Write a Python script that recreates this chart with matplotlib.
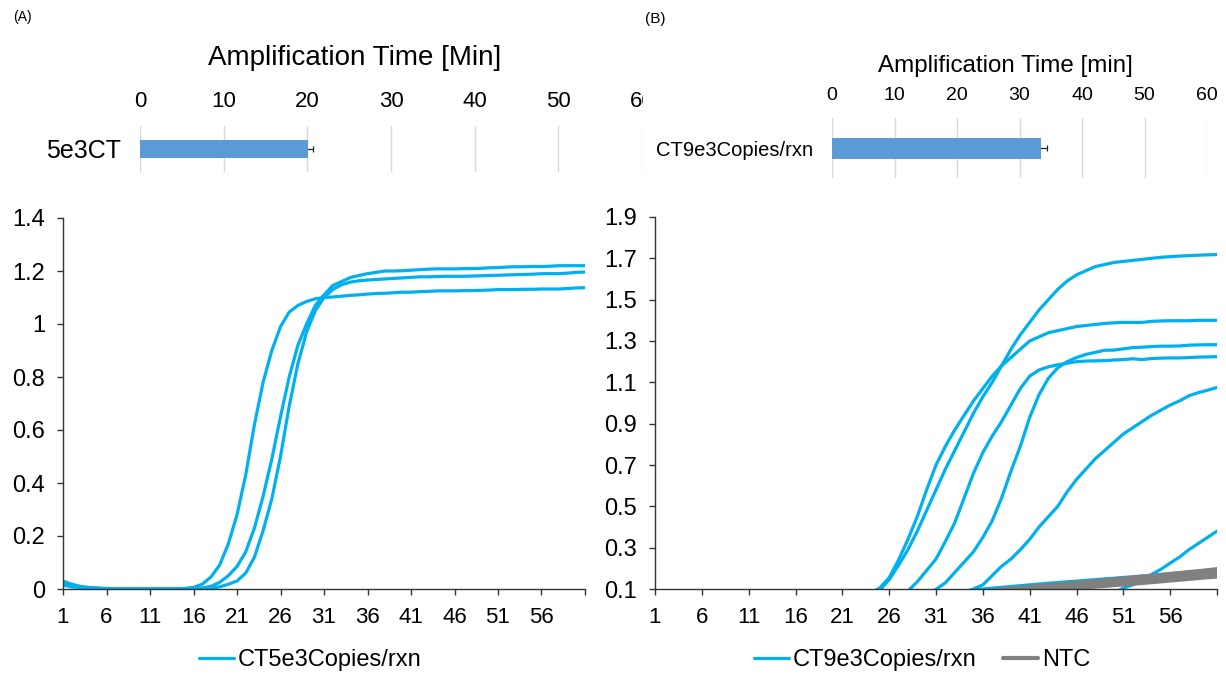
import matplotlib
matplotlib.use("Agg")
import matplotlib.pyplot as plt
from matplotlib.transforms import Bbox, TransformedBbox

plt.rcParams['font.family'] = ['Liberation Sans', 'DejaVu Sans']

# ---- data ----
cycles = list(range(1, 62))

# panel A, 5e3 copies/rxn, three replicates
ct5_r1 = [0.03, 0.018, 0.01, 0.006, 0.004, 0.002, 0.001, 0.001, 0.001, 0.0,
          0.0, 0.0, 0.0, 0.001, 0.002, 0.006, 0.018, 0.045, 0.09, 0.17,
          0.28, 0.43, 0.62, 0.78, 0.9, 0.99, 1.045, 1.07, 1.085, 1.095,
          1.1, 1.102, 1.105, 1.108, 1.11, 1.113, 1.115, 1.116, 1.118, 1.12,
          1.12, 1.122, 1.123, 1.125, 1.125, 1.125, 1.126, 1.126, 1.127, 1.128,
          1.13, 1.13, 1.13, 1.131, 1.131, 1.132, 1.132, 1.132, 1.134, 1.136,
          1.137]
ct5_r2 = [0.02, 0.012, 0.006, 0.004, 0.002, 0.001, 0.001, 0.0, 0.0, 0.0,
          0.0, 0.0, 0.0, 0.0, 0.001, 0.001, 0.004, 0.01, 0.025, 0.05,
          0.085, 0.14, 0.23, 0.35, 0.49, 0.65, 0.8, 0.92, 1.0, 1.07,
          1.11, 1.145, 1.16, 1.175, 1.183, 1.19, 1.195, 1.2, 1.2, 1.201,
          1.203, 1.205, 1.207, 1.208, 1.208, 1.208, 1.209, 1.209, 1.21, 1.212,
          1.213, 1.215, 1.216, 1.216, 1.217, 1.217, 1.218, 1.22, 1.22, 1.22,
          1.22]
ct5_r3 = [0.015, 0.008, 0.005, 0.003, 0.001, 0.001, 0.0, 0.0, 0.0, 0.0,
          0.0, 0.0, 0.0, 0.0, 0.0, 0.0, 0.001, 0.003, 0.008, 0.018,
          0.03, 0.06, 0.12, 0.22, 0.34, 0.5, 0.69, 0.85, 0.97, 1.05,
          1.1, 1.13, 1.148, 1.158, 1.163, 1.166, 1.168, 1.17, 1.172, 1.174,
          1.176, 1.178, 1.178, 1.179, 1.18, 1.18, 1.18, 1.181, 1.182, 1.183,
          1.184, 1.185, 1.186, 1.187, 1.188, 1.19, 1.19, 1.19, 1.192, 1.195,
          1.196]

# panel B, 9e3 copies/rxn
ct9_r1 = [0.05, 0.05, 0.05, 0.05, 0.05, 0.05, 0.05, 0.05, 0.05, 0.05,
          0.05, 0.05, 0.05, 0.05, 0.05, 0.05, 0.05, 0.05, 0.05, 0.05,
          0.05, 0.05, 0.06, 0.08, 0.105, 0.155, 0.24, 0.34, 0.45, 0.58,
          0.7, 0.79, 0.87, 0.94, 1.01, 1.07, 1.13, 1.18, 1.22, 1.26,
          1.3, 1.32, 1.34, 1.35, 1.36, 1.37, 1.375, 1.38, 1.385, 1.388,
          1.39, 1.39, 1.39, 1.395, 1.397, 1.398, 1.398, 1.398, 1.4, 1.4,
          1.4]
ct9_r2 = [0.05, 0.05, 0.05, 0.05, 0.05, 0.05, 0.05, 0.05, 0.05, 0.05,
          0.05, 0.05, 0.05, 0.05, 0.05, 0.05, 0.05, 0.05, 0.05, 0.05,
          0.05, 0.05, 0.055, 0.07, 0.095, 0.145, 0.215, 0.29, 0.38, 0.48,
          0.58, 0.68, 0.77, 0.86, 0.95, 1.03, 1.1, 1.18, 1.26, 1.33,
          1.39, 1.45, 1.5, 1.55, 1.59, 1.62, 1.64, 1.66, 1.67, 1.68,
          1.685, 1.69, 1.695, 1.7, 1.705, 1.708, 1.711, 1.713, 1.715, 1.717,
          1.718]
ct9_r3 = [0.05, 0.05, 0.05, 0.05, 0.05, 0.05, 0.05, 0.05, 0.05, 0.05,
          0.05, 0.05, 0.05, 0.05, 0.05, 0.05, 0.05, 0.05, 0.05, 0.05,
          0.05, 0.05, 0.05, 0.05, 0.05, 0.05, 0.06, 0.09, 0.135, 0.19,
          0.245, 0.33, 0.42, 0.54, 0.66, 0.76, 0.84, 0.91, 0.99, 1.07,
          1.13, 1.16, 1.175, 1.185, 1.193, 1.2, 1.203, 1.204, 1.205, 1.208,
          1.21, 1.214, 1.21, 1.215, 1.217, 1.218, 1.218, 1.22, 1.222, 1.223,
          1.224]
ct9_r4 = [0.05, 0.05, 0.05, 0.05, 0.05, 0.05, 0.05, 0.05, 0.05, 0.05,
          0.05, 0.05, 0.05, 0.05, 0.05, 0.05, 0.05, 0.05, 0.05, 0.05,
          0.05, 0.05, 0.05, 0.05, 0.05, 0.05, 0.05, 0.05, 0.06, 0.075,
          0.098, 0.13, 0.18, 0.23, 0.28, 0.35, 0.43, 0.54, 0.67, 0.79,
          0.93, 1.04, 1.12, 1.17, 1.2, 1.22, 1.235, 1.245, 1.255, 1.256,
          1.262, 1.268, 1.27, 1.273, 1.275, 1.275, 1.276, 1.28, 1.281, 1.282,
          1.282]
ct9_r5 = [0.05, 0.05, 0.05, 0.05, 0.05, 0.05, 0.05, 0.05, 0.05, 0.05,
          0.05, 0.05, 0.05, 0.05, 0.05, 0.05, 0.05, 0.05, 0.05, 0.05,
          0.05, 0.05, 0.05, 0.05, 0.05, 0.05, 0.05, 0.05, 0.05, 0.05,
          0.05, 0.05, 0.06, 0.085, 0.1, 0.12, 0.165, 0.21, 0.245, 0.29,
          0.34, 0.4, 0.45, 0.5, 0.57, 0.63, 0.68, 0.73, 0.77, 0.81,
          0.85, 0.88, 0.91, 0.94, 0.965, 0.99, 1.01, 1.035, 1.05, 1.062,
          1.075]
ct9_r6 = [0.05, 0.05, 0.05, 0.05, 0.05, 0.05, 0.05, 0.05, 0.05, 0.05,
          0.05, 0.05, 0.05, 0.05, 0.05, 0.05, 0.05, 0.05, 0.05, 0.05,
          0.05, 0.05, 0.05, 0.05, 0.05, 0.05, 0.05, 0.05, 0.05, 0.05,
          0.05, 0.05, 0.05, 0.05, 0.05, 0.05, 0.05, 0.05, 0.05, 0.05,
          0.05, 0.05, 0.05, 0.05, 0.05, 0.05, 0.05, 0.05, 0.06, 0.08,
          0.105, 0.12, 0.14, 0.17, 0.195, 0.225, 0.255, 0.29, 0.32, 0.35,
          0.38]
ct9_r7 = [0.05, 0.05, 0.05, 0.05, 0.05, 0.05, 0.05, 0.05, 0.05, 0.05,
          0.05, 0.05, 0.05, 0.05, 0.05, 0.05, 0.05, 0.05, 0.05, 0.05,
          0.05, 0.05, 0.05, 0.05, 0.05, 0.05, 0.05, 0.05, 0.05, 0.05,
          0.06, 0.07, 0.08, 0.088, 0.095, 0.1, 0.104, 0.108, 0.112, 0.116,
          0.12, 0.124, 0.128, 0.131, 0.135, 0.138, 0.142, 0.145, 0.149, 0.152,
          0.156, 0.159, 0.163, 0.166, 0.17, 0.174, 0.178, 0.182, 0.186, 0.19,
          0.195]

ntc_r1 = [0.05, 0.05, 0.05, 0.05, 0.05, 0.05, 0.05, 0.05, 0.05, 0.05,
          0.05, 0.05, 0.05, 0.05, 0.05, 0.05, 0.05, 0.05, 0.05, 0.05,
          0.05, 0.05, 0.05, 0.05, 0.05, 0.05, 0.05, 0.05, 0.05, 0.05,
          0.06, 0.065, 0.07, 0.075, 0.08, 0.086, 0.092, 0.098, 0.102, 0.106,
          0.11, 0.114, 0.118, 0.122, 0.126, 0.13, 0.134, 0.138, 0.142, 0.147,
          0.151, 0.155, 0.16, 0.164, 0.168, 0.173, 0.177, 0.182, 0.186, 0.191,
          0.196]
ntc_r2 = [0.05, 0.05, 0.05, 0.05, 0.05, 0.05, 0.05, 0.05, 0.05, 0.05,
          0.05, 0.05, 0.05, 0.05, 0.05, 0.05, 0.05, 0.05, 0.05, 0.05,
          0.05, 0.05, 0.05, 0.05, 0.05, 0.05, 0.05, 0.05, 0.05, 0.05,
          0.055, 0.06, 0.065, 0.07, 0.075, 0.08, 0.085, 0.09, 0.094, 0.097,
          0.1, 0.104, 0.108, 0.112, 0.116, 0.12, 0.124, 0.128, 0.131, 0.135,
          0.139, 0.143, 0.147, 0.151, 0.155, 0.159, 0.163, 0.167, 0.171, 0.175,
          0.178]
ntc_r3 = [0.05, 0.05, 0.05, 0.05, 0.05, 0.05, 0.05, 0.05, 0.05, 0.05,
          0.05, 0.05, 0.05, 0.05, 0.05, 0.05, 0.05, 0.05, 0.05, 0.05,
          0.05, 0.05, 0.05, 0.05, 0.05, 0.05, 0.05, 0.05, 0.05, 0.05,
          0.05, 0.055, 0.06, 0.065, 0.07, 0.075, 0.08, 0.084, 0.088, 0.091,
          0.094, 0.097, 0.099, 0.1, 0.103, 0.106, 0.109, 0.112, 0.115, 0.119,
          0.122, 0.126, 0.129, 0.133, 0.137, 0.141, 0.145, 0.149, 0.153, 0.157,
          0.16]

# amplification time bars (minutes) with error
bar_a_label, bar_a_time, bar_a_err = "5e3CT", 20.1, 0.6
bar_b_label, bar_b_time, bar_b_err = "CT9e3Copies/rxn", 33.5, 0.9

xtick_vals = [1, 6, 11, 16, 21, 26, 31, 36, 41, 46, 51, 56, 61]
xtick_labels = ['1', '6', '11', '16', '21', '26', '31', '36', '41', '46', '51', '56', '']
ya_ticks = [0, 0.2, 0.4, 0.6, 0.8, 1.0, 1.2, 1.4]
ya_labels = ['0', '0.2', '0.4', '0.6', '0.8', '1', '1.2', '1.4']
yb_ticks = [0.1, 0.3, 0.5, 0.7, 0.9, 1.1, 1.3, 1.5, 1.7, 1.9]
yb_labels = ['0.1', '0.3', '0.5', '0.7', '0.9', '1.1', '1.3', '1.5', '1.7', '1.9']
time_ticks = [0, 10, 20, 30, 40, 50, 60]

BLUE = '#00B0F0'
GREY = '#808080'
BAR = '#5B9BD5'

W, H = 1226, 676
fig = plt.figure(figsize=(W / 100, H / 100), dpi=100)


def px_axes(l, t, r, b):
    return fig.add_axes([l / W, 1 - b / H, (r - l) / W, (b - t) / H])


axA = px_axes(63, 218, 585, 589)
axB = px_axes(655, 217, 1217, 589)
barA = px_axes(140, 126, 642, 172)
barB = px_axes(832, 118, 1207, 178)

# ---- curves ----
for i, ys in enumerate([ct5_r1, ct5_r2, ct5_r3]):
    axA.plot(cycles, ys, color=BLUE, lw=2.3, solid_capstyle='round',
             label='CT5e3Copies/rxn' if i == 0 else None)

for i, ys in enumerate([ct9_r1, ct9_r2, ct9_r3, ct9_r4, ct9_r5, ct9_r6, ct9_r7]):
    axB.plot(cycles, ys, color=BLUE, lw=2.3, solid_capstyle='round',
             label='CT9e3Copies/rxn' if i == 0 else None)
for i, ys in enumerate([ntc_r1, ntc_r2, ntc_r3]):
    axB.plot(cycles, ys, color=GREY, lw=3.0, solid_capstyle='round',
             label='NTC' if i == 0 else None)

for ax, yt, yl, ylim in [(axA, ya_ticks, ya_labels, (0, 1.4)),
                         (axB, yb_ticks, yb_labels, (0.1, 1.9))]:
    ax.set_xlim(1, 61)
    ax.set_ylim(*ylim)
    ax.set_xticks(xtick_vals)
    ax.set_xticklabels(xtick_labels, fontsize=16)
    ax.set_yticks(yt)
    ax.set_yticklabels(yl, fontsize=17)
    for s in ['top', 'right']:
        ax.spines[s].set_visible(False)
    for s in ['left', 'bottom']:
        ax.spines[s].set_color('#333333')
        ax.spines[s].set_linewidth(1.0)
    ax.tick_params(axis='both', direction='out', length=4, width=1.0,
                   color='#333333', pad=9)

axA.legend(loc='center', bbox_to_anchor=(310 / W, 1 - 660 / H),
           bbox_transform=fig.transFigure, frameon=False, fontsize=17,
           handlelength=1.5, handletextpad=0.15, borderpad=0)
axB.legend(loc='center', bbox_to_anchor=(922 / W, 1 - 660 / H),
           bbox_transform=fig.transFigure, frameon=False, fontsize=17,
           handlelength=1.5, handletextpad=0.15, borderpad=0, ncol=2,
           columnspacing=1.1)

# ---- amplification time bars ----
for ax, lab, t, err, lab_fs, tick_fs, lab_pad in [
        (barA, bar_a_label, bar_a_time, bar_a_err, 18, 16, 14),
        (barB, bar_b_label, bar_b_time, bar_b_err, 14.5, 14, 13.5)]:
    hgt = 0.37 if ax is barA else 0.35
    ax.barh([0], [t], height=hgt, color=BAR, zorder=3)
    ax.errorbar([t], [0], xerr=[err], fmt='none', ecolor='#222222',
                elinewidth=0.9, capsize=2.5, capthick=0.9, zorder=2)
    ax.set_xlim(0, 60)
    ax.set_ylim(-0.5, 0.5)
    ax.set_xticks(time_ticks)
    ax.set_xticklabels([str(v) for v in time_ticks], fontsize=tick_fs)
    ax.set_yticks([0])
    ax.set_yticklabels([lab], fontsize=lab_fs)
    ax.xaxis.tick_top()
    ax.tick_params(axis='x', length=0, pad=10)
    ax.tick_params(axis='y', length=0, pad=lab_pad)
    for s in ax.spines.values():
        s.set_visible(False)
    ax.grid(axis='x', color='#D9D9D9', lw=1.0, zorder=0)
    ax.set_axisbelow(True)
    ax.patch.set_alpha(0)

# the "60" of panel A runs into panel B and is cut
cut = TransformedBbox(Bbox.from_extents(0, 0, 643 / W, 1), fig.transFigure)
for lab in barA.get_xticklabels():
    lab.set_clip_box(cut)
    lab.set_clip_on(True)

fig.text(355 / W, 1 - 65 / H, 'Amplification Time [Min]', fontsize=20,
         ha='center', va='baseline')
fig.text(1005 / W, 1 - 72 / H, 'Amplification Time [min]', fontsize=17.4,
         ha='center', va='baseline')
fig.text(13 / W, 1 - 17 / H, '(A)', fontsize=10, va='center')
fig.text(645 / W, 1 - 19 / H, '(B)', fontsize=11, va='center')

fig.savefig('out.png', dpi=100)
